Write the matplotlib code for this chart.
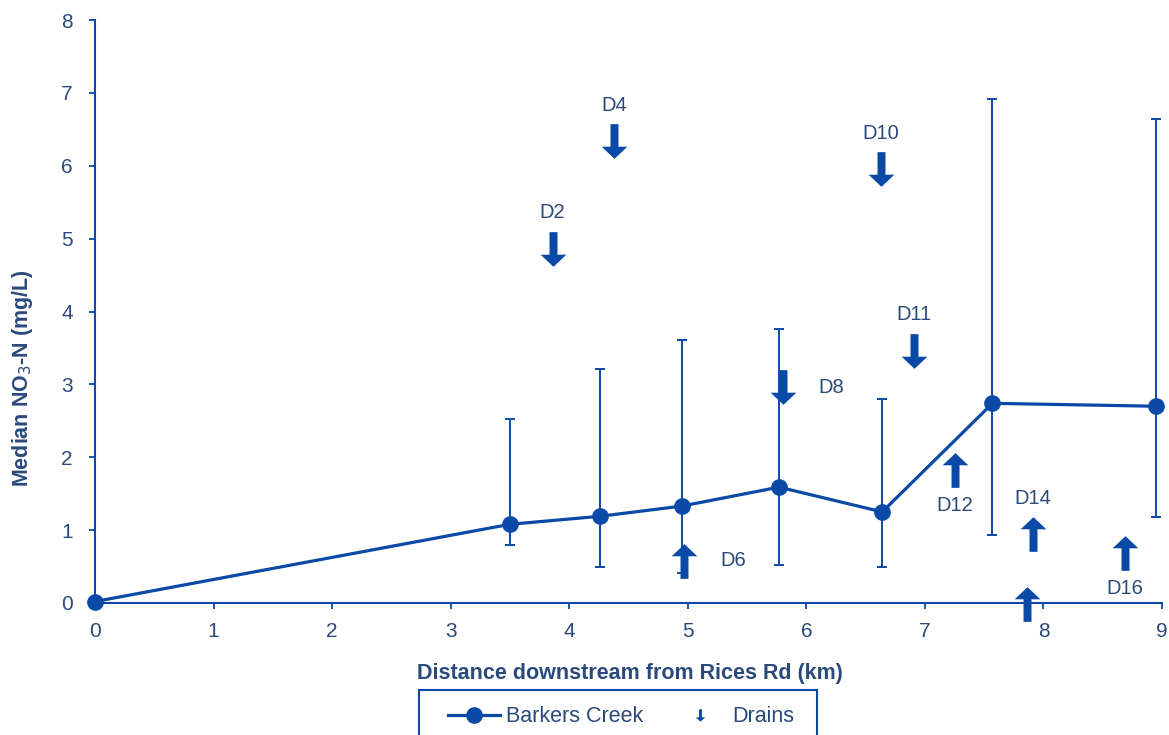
import matplotlib
matplotlib.use('Agg')
import matplotlib.pyplot as plt
from matplotlib.path import Path
from matplotlib.lines import Line2D
from matplotlib.patches import Rectangle

plt.rcParams['font.family'] = ['Liberation Sans', 'DejaVu Sans']

# Creek monitoring sites: distance (km), median NO3-N and range (mg/L)
distance_km = [0.0, 3.50, 4.26, 4.95, 5.77, 6.64, 7.57, 8.95]
median_no3 = [0.02, 1.08, 1.19, 1.33, 1.59, 1.25, 2.74, 2.70]
range_low = [0.02, 0.80, 0.50, 0.41, 0.52, 0.50, 0.93, 1.18]
range_high = [0.02, 2.52, 3.21, 3.61, 3.76, 2.80, 6.91, 6.64]

# Drain inflows: name, distance (km), level on the chart, arrow direction
drain_names = ['D2', 'D4', 'D6', 'D8', 'D10', 'D11', 'D12', 'D14', 'D15', 'D16']
drain_km = [3.86, 4.38, 4.97, 5.80, 6.63, 6.91, 7.25, 7.91, 7.86, 8.69]
drain_level = [4.86, 6.34, 0.58, 2.96, 5.95, 3.46, 1.83, 0.94, -0.02, 0.69]
drain_dir = ['down', 'down', 'up', 'down', 'down', 'down', 'up', 'up', 'up', 'up']
# where each drain label sits relative to its arrow
label_side = ['above', 'above', 'right', 'right', 'above', 'above', 'below', 'above', 'above', 'below']

blue = '#0A4AA6'
text_blue = '#2B4A7C'

# block arrow marker pointing down
hw_shaft, hw_head, neck = 0.115, 0.37, -0.15
down_arrow = Path([(-hw_shaft, 0.5), (hw_shaft, 0.5), (hw_shaft, neck), (hw_head, neck),
                   (0, -0.5), (-hw_head, neck), (-hw_shaft, neck), (-hw_shaft, 0.5)],
                  closed=True)
up_arrow = Path([(x, -y) for x, y in down_arrow.vertices], closed=True)

fig = plt.figure(figsize=(11.69, 7.35), dpi=100)
ax = fig.add_axes([95 / 1169, 132 / 735, 1067 / 1169, 583 / 735])

yerr = [[m - lo for m, lo in zip(median_no3, range_low)],
        [hi - m for m, hi in zip(median_no3, range_high)]]
ax.errorbar(distance_km[1:], median_no3[1:],
            yerr=[yerr[0][1:], yerr[1][1:]], fmt='none',
            ecolor=blue, elinewidth=1.4, capsize=3.5, capthick=1.4, zorder=2)
ax.plot(distance_km, median_no3, color=blue, lw=2.3, marker='o', ms=11,
        zorder=3, clip_on=False)

for name, x, y, d, side in zip(drain_names, drain_km, drain_level, drain_dir, label_side):
    ax.plot([x], [y], linestyle='none', marker=down_arrow if d == 'down' else up_arrow,
            ms=25, color=blue, mec=blue, mew=0, clip_on=False, zorder=4)
    if side == 'above':
        off, ha, va = (0, 19), 'center', 'bottom'
    elif side == 'below':
        off, ha, va = (0, -19), 'center', 'top'
    else:
        off, ha, va = (26, 0), 'left', 'center'
    ax.annotate(name, (x, y), xytext=off, textcoords='offset points',
                ha=ha, va=va, fontsize=14.5, color=text_blue)

ax.set_xlim(0, 9)
ax.set_ylim(0, 8)
ax.set_xticks(range(0, 10))
ax.set_yticks(range(0, 9))
for s in ['top', 'right']:
    ax.spines[s].set_visible(False)
for s in ['left', 'bottom']:
    ax.spines[s].set_color(blue)
    ax.spines[s].set_linewidth(1.5)
ax.tick_params(colors=blue, labelcolor=text_blue, labelsize=15, length=4, width=1.3)
ax.tick_params(axis='x', pad=10)
ax.tick_params(axis='y', pad=12)

ax.set_xlabel('Distance downstream from Rices Rd (km)', fontsize=15.5,
              fontweight='bold', color=text_blue)
ax.xaxis.set_label_coords(0.501, -0.103)
ax.set_ylabel('Median NO$_3$-N (mg/L)', fontsize=15.5, fontweight='bold',
              color=text_blue, va='center')
ax.yaxis.set_label_coords(-0.068, 0.386)

# legend sits in its own box under the x label, running off the bottom edge
handles = [Line2D([], [], color=blue, lw=2.3, marker='o', ms=11),
           Line2D([], [], color=blue, linestyle='none', marker=down_arrow, ms=9, mew=0)]
leg = fig.legend(handles, ['Barkers Creek', 'Drains'], loc='upper center',
                 bbox_to_anchor=(621 / 1169, 44 / 735), ncol=2, fontsize=15.5,
                 frameon=False, handlelength=2.4, columnspacing=1.4,
                 borderpad=0.7, handletextpad=0.3, borderaxespad=0)
for t in leg.get_texts():
    t.set_color(text_blue)
fig.patches.append(Rectangle((419 / 1169, -10 / 735), 398 / 1169, 55 / 735,
                             transform=fig.transFigure, fill=False,
                             edgecolor=blue, linewidth=1.5))

fig.savefig('out.png', dpi=100)
